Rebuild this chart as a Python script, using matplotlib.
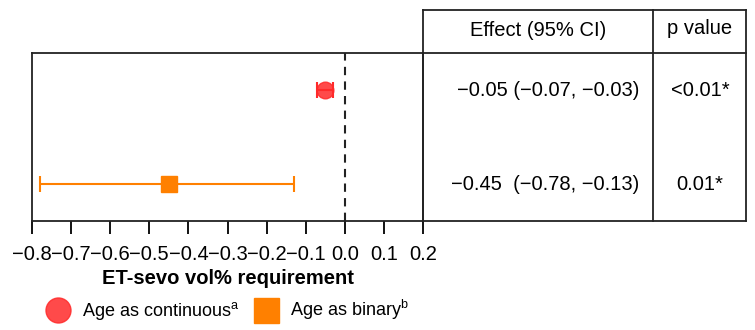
import matplotlib
matplotlib.use("Agg")
import matplotlib.pyplot as plt
from matplotlib.lines import Line2D
import numpy as np

# data
labels = ["Age as continuous$^\\mathregular{a}$", "Age as binary$^\\mathregular{b}$"]
effects = [-0.05, -0.45]
ci_low = [-0.07, -0.78]
ci_high = [-0.03, -0.13]
effect_text = ["\u22120.05 (\u22120.07, \u22120.03)", "\u22120.45  (\u22120.78, \u22120.13)"]
p_text = ["<0.01*", "0.01*"]
xticks = [-0.8, -0.7, -0.6, -0.5, -0.4, -0.3, -0.2, -0.1, 0.0, 0.1, 0.2]

plt.rcParams["font.family"] = ["Liberation Sans", "DejaVu Sans"]
plt.rcParams["axes.unicode_minus"] = True

W, H = 755, 330
fig = plt.figure(figsize=(W / 100, H / 100), dpi=100)

def fx(px):
    return px / W

def fy(py):
    return 1 - py / H

x0, x1 = 32, 423
y_top, y_bot, y_head = 53, 221, 10
ax = fig.add_axes([fx(x0), fy(y_bot), fx(x1) - fx(x0), fy(y_top) - fy(y_bot)])

ypos = [1, 0]
colors = ["#ff2a2a", "#ff8000"]
markers = ["o", "s"]
fs = 14.5

handles = []
for i in range(2):
    h, = ax.plot(effects[i], ypos[i], marker=markers[i], ms=12, color=colors[i],
                 alpha=0.85 if i == 0 else 1.0, ls="none", label=labels[i], zorder=3)
    handles.append(h)
    ax.errorbar(effects[i], ypos[i],
                xerr=[[effects[i] - ci_low[i]], [ci_high[i] - effects[i]]],
                fmt="none", ecolor=colors[i], elinewidth=1.5, capsize=6,
                capthick=1.5, zorder=4)

ax.axvline(0, color="#222222", ls=(0, (4, 3)), lw=1.5, zorder=2)
ax.set_xlim(-0.8, 0.2)
ax.set_ylim(-0.4, 1.4)
ax.set_yticks([])
ax.set_xticks(xticks)
ax.set_xticklabels(["%.1f" % t if t >= 0 else "\u2212%.1f" % abs(t) for t in xticks])
ax.tick_params(axis="x", length=9, width=1.3, direction="out", labelsize=fs, pad=8)
for s in ax.spines.values():
    s.set_linewidth(1.3)
    s.set_color("#222222")
fig.text(fx(228), fy(279), "ET-sevo vol% requirement", ha="center", va="center",
         fontsize=fs, fontweight="bold")

fig.legend(handles=handles, loc="center", bbox_to_anchor=(fx(228), fy(310)), ncol=2,
           frameon=False, fontsize=13, handletextpad=0.7, columnspacing=0.9,
           handlelength=1.2, markerscale=1.5)

# table lines
c_mid, c_right = 653, 746
lw = 1.3
segs = [
    ((x1, y_head), (c_right, y_head)),
    ((x1, y_top), (c_right, y_top)),
    ((x1, y_bot), (c_right, y_bot)),
    ((x1, y_head), (x1, y_bot)),
    ((c_mid, y_head), (c_mid, y_bot)),
    ((c_right, y_head), (c_right, y_bot)),
]
for (a, b), (c, d) in segs:
    fig.add_artist(Line2D([fx(a), fx(c)], [fy(b), fy(d)], color="#222222", lw=lw))

fig.text(fx(538), fy(31), "Effect (95% CI)", ha="center", va="center", fontsize=fs)
fig.text(fx(700), fy(29), "p value", ha="center", va="center", fontsize=fs)
row_y = [91, 184]
for i in range(2):
    fig.text(fx(639), fy(row_y[i]), effect_text[i], ha="right", va="center", fontsize=fs)
    fig.text(fx(700), fy(row_y[i]), p_text[i], ha="center", va="center", fontsize=fs)

fig.savefig("out.png", dpi=100)
